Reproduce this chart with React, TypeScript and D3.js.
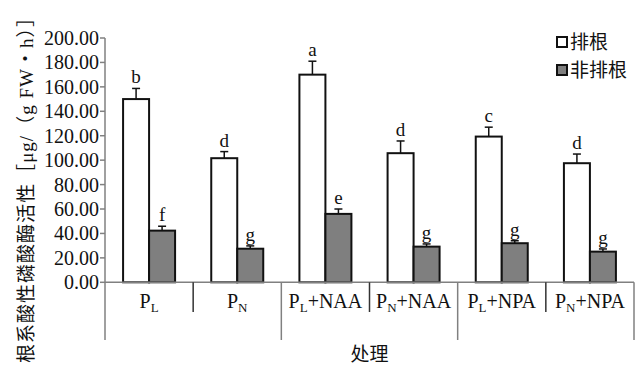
import React from 'react';
import * as d3 from 'd3';

// treatments (P_x = subscript)
const categories = ['P_L', 'P_N', 'P_L+NAA', 'P_N+NAA', 'P_L+NPA', 'P_N+NPA'];
const seriesNames = ['排根', '非排根'];

// 排根
const paigenValues = [150.0, 101.6, 170.0, 105.7, 119.3, 97.5];
const paigenErrors = [8.7, 5.4, 11.0, 10.0, 7.7, 7.5];
const paigenLetters = ['b', 'd', 'a', 'd', 'c', 'd'];

// 非排根
const feiValues = [42.3, 27.5, 56.0, 29.2, 32.0, 25.1];
const feiErrors = [3.6, 2.3, 4.0, 2.2, 2.0, 2.2];
const feiLetters = ['f', 'g', 'e', 'g', 'g', 'g'];

const yTicks = [0, 20, 40, 60, 80, 100, 120, 140, 160, 180, 200];

const W = 638;
const H = 368;
const left = 105;
const right = 634;
const top = 38;
const bottom = 282.3;

const serif = '"Liberation Serif", "Noto Sans CJK SC", serif';

const App = () => {
  const x0 = d3.scaleBand<string>().domain(categories).range([left, right]).padding(0);
  const bw = x0.bandwidth();
  const pairW = 52;
  const x1 = d3.scaleBand<string>().domain(seriesNames).range([(bw - pairW) / 2, (bw + pairW) / 2]).padding(0);
  const y = d3.scaleLinear().domain([0, 200]).range([bottom, top]);
  const fmt = d3.format('.2f');

  const series = [
    { name: seriesNames[0], values: paigenValues, errors: paigenErrors, letters: paigenLetters, fill: '#ffffff' },
    { name: seriesNames[1], values: feiValues, errors: feiErrors, letters: feiLetters, fill: '#7f7f7f' },
  ];

  return (
    <svg width={W} height={H} style={{ position: 'absolute', left: 0, top: 0, background: '#fff' }}
      fontFamily={serif}>
      {/* y axis */}
      <line x1={left} x2={left} y1={top} y2={340} stroke="#808080" strokeWidth={1.5} />
      {yTicks.map(t => (
        <g key={t}>
          <line x1={left - 5} x2={left} y1={y(t)} y2={y(t)} stroke="#808080" strokeWidth={1.5} />
          <text x={left - 6} y={y(t)} dy="0.35em" textAnchor="end" fontSize={20} fill="#111">{fmt(t)}</text>
        </g>
      ))}

      {/* bars */}
      {categories.map((c, i) => (
        <g key={c} transform={`translate(${x0(c)},0)`}>
          {series.map(s => {
            const bx = x1(s.name)!;
            const cx = bx + x1.bandwidth() / 2;
            const v = s.values[i];
            const e = s.errors[i];
            return (
              <g key={s.name}>
                <line x1={cx} x2={cx} y1={y(v)} y2={y(v + e)} stroke="#111" strokeWidth={1.5} />
                <line x1={cx - 4} x2={cx + 4} y1={y(v + e)} y2={y(v + e)} stroke="#111" strokeWidth={1.5} />
                <rect x={bx} y={y(v)} width={x1.bandwidth()} height={y(0) - y(v)}
                  fill={s.fill} stroke="#111" strokeWidth={2} />
                <text x={cx} y={y(v + e) - 5} textAnchor="middle" fontSize={19} fill="#111">{s.letters[i]}</text>
              </g>
            );
          })}
        </g>
      ))}

      {/* x axis */}
      <line x1={left} x2={right} y1={bottom} y2={bottom} stroke="#808080" strokeWidth={1.5} />
      {categories.map((c, i) => {
        const xr = x0(c)! + bw;
        const long = i % 2 === 1;
        return (
          <line key={'sep' + c} x1={xr} x2={xr} y1={bottom} y2={long ? 340 : 312}
            stroke={long ? '#808080' : '#333'} strokeWidth={1.5} />
        );
      })}
      {categories.map(c => {
        const [p, rest] = c.split('_');
        const sub = rest[0];
        const tail = rest.slice(1);
        return (
          <text key={'lab' + c} x={x0(c)! + bw / 2} y={308} textAnchor="middle" fontSize={20} fill="#111">
            <tspan>{p}</tspan>
            <tspan fontSize={13} dy={4}>{sub}</tspan>
            <tspan dy={-4}>{tail}</tspan>
          </text>
        );
      })}

      <text x={(left + right) / 2} y={361} textAnchor="middle" fontSize={19} fill="#111">处理</text>

      {/* y title */}
      <text transform={`translate(33,${(8 + 363) / 2}) rotate(-90)`} textAnchor="middle" fontSize={19} fill="#111"
        textLength={355} lengthAdjust="spacing">
        根系酸性磷酸酶活性［μg/（g FW・h）］
      </text>

      {/* legend */}
      {series.map((s, i) => (
        <g key={'lg' + s.name} transform={`translate(557,${42 + i * 28})`}>
          <rect x={0} y={-5} width={10} height={10} fill={s.fill} stroke="#111" strokeWidth={2} />
          <text x={13} y={0} dy="0.36em" fontSize={19} fill="#111">{s.name}</text>
        </g>
      ))}
    </svg>
  );
};

export default App;
